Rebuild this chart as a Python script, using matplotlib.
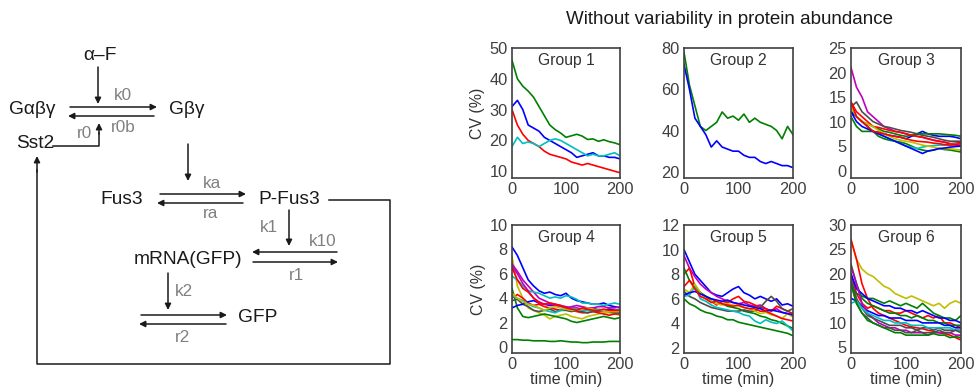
import matplotlib
matplotlib.use("Agg")
import matplotlib.pyplot as plt
import numpy as np

plt.rcParams['font.family'] = ['Liberation Sans', 'DejaVu Sans']

# time axis (min), sampled every 10 min
t = np.arange(0, 201, 10)

# MATLAB-like colours
B, G, R, C = (0, 0, 1), (0, 0.5, 0), (1, 0, 0), (0, 0.75, 0.75)
M, Y, K = (0.75, 0, 0.75), (0.75, 0.75, 0), (0.3, 0.3, 0.3)

# Group 1
g1 = [
    (G, [46, 40, 37.6, 36, 34, 31, 28, 25, 23.5, 22.4, 21, 21.5, 22, 21.4, 20.3, 20.5, 19.7, 20.2, 19.6, 19.2, 18.6]),
    (B, [31, 33, 30, 25, 24, 23, 21, 20, 19, 18, 17, 16, 14.5, 15, 15.5, 16, 15, 15, 14.5, 14.5, 14]),
    (R, [30, 25, 22, 20, 19, 18, 16.5, 15.5, 15, 14.5, 14, 13, 12.5, 12, 12.5, 12, 11.5, 11, 10.5, 10, 9.5]),
    (C, [18, 21, 19, 19.5, 19, 18, 19, 20, 20.5, 20, 19, 18, 17, 16, 15, 15.5, 15, 15, 15.5, 16, 15]),
]
# Group 2
g2 = [
    (G, [78, 62, 52, 42, 40, 42, 44, 49, 46, 47, 45, 48, 44, 46, 44, 43, 42, 40, 36, 42, 38]),
    (B, [72, 60, 46, 42, 38, 32, 35, 32, 31, 30, 30, 28, 27, 27, 25, 24, 25, 24, 23, 23, 22]),
]
# Group 3
g3 = [
    (M, [21, 17, 15, 12, 11, 10, 9, 8.5, 8, 7.8, 7.5, 7.2, 7, 6.8, 6.5, 6.2, 6, 5.8, 5.5, 5.2, 5]),
    (K, [13, 14, 12, 11, 10, 9.5, 9, 8.8, 8.5, 8.2, 8, 7.8, 7.5, 7.2, 7, 6.8, 6.5, 6.2, 6, 6, 6]),
    (B, [12, 11, 10, 9, 8, 7.8, 7.5, 7.2, 7, 6.8, 6.5, 7, 7.5, 8, 7.5, 7.2, 7, 7, 7, 6.8, 6.5]),
    (G, [11, 9, 8, 8, 8, 7, 6.5, 6.2, 6, 5.8, 5.5, 5, 4.5, 4.2, 4, 4.2, 4.5, 4.3, 4.2, 4, 3.8]),
    (G, [13, 11, 10, 9.5, 9, 8.5, 8, 7.8, 7.5, 7.2, 7, 7.2, 7.5, 7.5, 7.5, 7.5, 7.5, 7.4, 7.3, 7.2, 7]),
    (R, [14, 12, 11, 10, 9, 8.8, 8.5, 8.2, 8, 7.8, 7.5, 7.2, 7, 6.8, 6.5, 6.2, 6, 5.8, 5.5, 5.6, 5.8]),
    (C, [13, 11, 10, 9, 8, 7.5, 7, 6.5, 6, 5.5, 5, 4.8, 4.5, 4.8, 5, 5.1, 5.2, 5.2, 5.3, 5.4, 5.5]),
    (Y, [13, 11, 10, 9.5, 9, 8.2, 7.5, 7, 6.5, 6.2, 6, 5.8, 5.5, 5.2, 5, 4.8, 4.5, 4.5, 4.5, 4.3, 4.2]),
    (B, [12, 10, 9, 8.5, 8, 7.5, 7, 6.5, 6, 5.5, 5, 4.5, 4, 3.5, 4, 4.2, 4.5, 4.6, 4.8, 4.9, 5]),
    (R, [14, 11, 10, 9, 8, 7.8, 7.5, 7.2, 7, 6.8, 6.5, 6.2, 6, 5.9, 5.8, 5.6, 5.5, 5.3, 5.2, 5.3, 5.5]),
]
# Group 4
g4 = [
    (B, [8.2, 7.5, 6.5, 5.5, 5, 4.6, 4.4, 4.5, 4.3, 4.2, 4.4, 4.0, 3.8, 3.7, 3.6, 3.5, 3.5, 3.6, 3.4, 3.3, 3.2]),
    (G, [0.6, 0.6, 0.55, 0.55, 0.5, 0.5, 0.5, 0.45, 0.45, 0.5, 0.45, 0.4, 0.4, 0.35, 0.35, 0.4, 0.4, 0.4, 0.45, 0.45, 0.45]),
    (Y, [7.4, 5, 4, 3.2, 3.0, 2.8, 2.6, 2.3, 2.5, 2.6, 2.7, 2.5, 2.4, 2.3, 2.5, 2.6, 2.7, 2.8, 2.8, 2.7, 2.6]),
    (M, [6.8, 6.2, 5.5, 5, 4.5, 4, 3.8, 3.6, 3.5, 3.4, 3.3, 3.2, 3.2, 3.1, 3.0, 3.1, 3.0, 3.0, 3.1, 3.0, 3.0]),
    (C, [5.8, 5.5, 5.0, 4.6, 4.5, 4.4, 4.2, 4.0, 4.1, 4.0, 4.2, 4.1, 3.9, 3.6, 3.6, 3.5, 3.5, 3.4, 3.5, 3.6, 3.5]),
    (G, [4.8, 3.2, 2.5, 2.4, 2.5, 2.6, 2.7, 2.6, 2.5, 2.4, 2.3, 2.1, 2.0, 2.1, 2.2, 2.3, 2.4, 2.5, 2.4, 2.3, 2.4]),
    (R, [4.0, 4.3, 4.0, 3.6, 3.4, 3.5, 3.3, 3.2, 3.1, 3.0, 3.1, 3.0, 2.9, 2.8, 2.8, 2.9, 2.8, 2.7, 2.6, 2.7, 2.7]),
    (K, [3.8, 3.9, 3.5, 3.3, 3.0, 2.9, 3.0, 3.1, 2.9, 3.0, 3.0, 2.9, 3.0, 2.9, 2.8, 2.9, 2.9, 3.0, 2.9, 2.8, 2.8]),
    (B, [3.2, 3.4, 3.5, 3.7, 3.8, 3.6, 3.5, 3.4, 3.4, 3.3, 3.2, 3.1, 3.0, 3.0, 3.1, 3.2, 3.0, 3.0, 3.1, 3.0, 3.0]),
    (C, [4.2, 4.0, 3.8, 3.5, 3.3, 3.2, 3.0, 2.9, 2.8, 3.0, 3.1, 3.2, 3.1, 3.0, 3.0, 3.0, 3.1, 3.0, 2.9, 3.0, 3.0]),
    (M, [6.6, 6.0, 5.2, 4.6, 4.0, 3.7, 3.5, 3.5, 3.4, 3.3, 3.2, 3.3, 3.4, 3.3, 3.2, 3.2, 3.3, 3.3, 3.2, 3.2, 3.3]),
    (Y, [4.4, 4.0, 3.7, 3.5, 3.4, 3.2, 3.0, 3.2, 3.3, 3.2, 3.1, 3.0, 3.0, 3.1, 3.2, 3.1, 3.0, 3.0, 2.9, 2.9, 2.9]),
    (R, [6.5, 5.5, 4.8, 4.5, 4.0, 3.6, 3.5, 3.6, 3.5, 3.4, 3.2, 3.1, 3.0, 3.2, 3.1, 3.0, 3.0, 3.1, 3.0, 3.0, 3.0]),
]
# Group 5
g5 = [
    (B, [10.0, 9.0, 8.0, 7.5, 7.0, 6.5, 6.3, 6.2, 6.5, 6.8, 7.0, 6.5, 6.3, 6.0, 6.2, 6.0, 5.8, 6.0, 5.5, 5.6, 5.4]),
    (M, [9.5, 8.5, 7.8, 7.2, 6.8, 6.5, 6.2, 6.0, 5.8, 5.7, 5.6, 5.7, 5.5, 5.4, 5.5, 5.2, 5.0, 5.2, 4.9, 4.8, 4.6]),
    (R, [8.0, 8.5, 7.0, 6.5, 6.2, 5.8, 5.5, 5.8, 5.7, 6.0, 6.2, 5.8, 5.7, 5.5, 5.3, 5.2, 5.0, 5.4, 5.2, 5.0, 4.8]),
    (G, [6.0, 5.6, 5.4, 5.1, 4.9, 4.8, 4.6, 4.5, 4.3, 4.3, 4.1, 4.0, 3.9, 3.8, 3.7, 3.6, 3.5, 3.4, 3.3, 3.2, 3.0]),
    (G, [8.5, 7.5, 7.0, 6.5, 6.2, 6.0, 5.8, 5.6, 5.4, 5.3, 5.2, 5.0, 4.9, 4.8, 4.6, 4.5, 4.3, 4.2, 4.0, 3.8, 3.6]),
    (K, [6.6, 6.2, 6.0, 5.7, 5.5, 5.3, 5.2, 5.1, 5.0, 5.0, 5.0, 5.1, 5.0, 5.0, 5.3, 5.8, 6.2, 5.8, 5.2, 5.0, 5.2]),
    (C, [6.2, 6.3, 7.0, 6.0, 5.8, 5.5, 5.3, 5.2, 5.1, 5.0, 4.9, 4.7, 4.6, 4.2, 4.0, 4.3, 4.1, 4.0, 4.2, 3.8, 3.4]),
    (Y, [6.8, 6.5, 7.2, 6.5, 6.0, 5.8, 5.6, 5.5, 5.6, 5.5, 5.4, 5.3, 5.2, 5.0, 4.8, 4.9, 4.7, 4.6, 4.4, 4.8, 4.5]),
    (B, [6.3, 6.5, 6.6, 6.4, 6.2, 6.0, 5.9, 5.8, 5.9, 5.7, 5.6, 5.5, 5.4, 5.3, 5.2, 5.0, 5.1, 5.0, 4.9, 4.8, 4.7]),
    (R, [7.0, 7.5, 6.8, 6.2, 6.0, 5.7, 5.8, 5.6, 5.5, 5.4, 5.5, 5.3, 5.2, 5.2, 5.0, 5.0, 4.8, 4.6, 4.4, 4.3, 4.2]),
]
# Group 6
g6 = [
    (Y, [27, 23, 21, 20, 19.5, 18.5, 17.5, 17, 16, 15.5, 15, 15.5, 15, 14.5, 14, 13.5, 14, 13, 14, 14.5, 14]),
    (R, [27, 23, 18, 15, 13, 12, 11.5, 11, 10.5, 10, 9.5, 9.2, 9, 8.8, 8.5, 8.3, 8, 7.8, 7.5, 7, 6.5]),
    (R, [20, 16, 14, 13, 13.5, 13, 12.5, 12.5, 12, 12, 12.5, 12, 11.5, 11, 11.5, 11, 11.5, 10, 10, 9.5, 9]),
    (G, [17.5, 16, 15.5, 15, 15, 14.5, 14, 14.5, 14, 13.5, 14, 13.5, 13, 14, 13, 12, 11.5, 11, 11, 10.5, 11.5]),
    (G, [22, 18, 15, 14, 13.5, 13, 12.5, 12, 12, 11.5, 11.5, 11, 11.5, 11, 10.5, 10.5, 10, 10, 9.5, 9.5, 9.5]),
    (B, [20, 17, 16, 15, 14.5, 14, 13.5, 13.5, 13, 13, 12.5, 12.5, 12, 12.5, 12, 11.5, 11, 11, 10.5, 10.5, 10]),
    (B, [15, 14.5, 13.5, 12.5, 12, 11.5, 11.5, 11, 11, 11, 10.5, 10.5, 10.5, 10, 10, 10, 10, 9.5, 9.5, 9, 9]),
    (M, [21.5, 18, 14, 12, 11, 10, 9.5, 9, 9, 8.5, 8.5, 8, 8, 8, 7.5, 8, 8, 8, 8, 7.5, 7.5]),
    (K, [19, 15, 13, 11.5, 11, 10.5, 10, 9.5, 9.5, 9.5, 9, 9, 8.5, 9, 9, 8.5, 9, 8.5, 8.5, 8.5, 8.5]),
    (C, [14, 14.5, 13, 12, 11.5, 11, 10.5, 10.5, 10, 10, 10, 9.5, 9.5, 9.5, 9, 9, 9, 9, 9, 8.5, 8.5]),
    (K, [18, 14, 12, 11, 10, 9.5, 9, 9, 8.5, 8.5, 8, 8, 8.5, 8, 8, 8, 8.5, 8, 8, 8.5, 8]),
    (G, [18, 14, 12, 10.5, 10, 9.5, 9, 8.5, 8, 8, 7.5, 7.5, 7.5, 7.5, 7.5, 7.8, 7.5, 7.5, 7, 7.2, 7]),
]

groups = [g1, g2, g3, g4, g5, g6]
group_names = ['Group 1', 'Group 2', 'Group 3', 'Group 4', 'Group 5', 'Group 6']
ylims = [(7.8, 50), (17, 80), (-1.5, 25), (-0.5, 10), (1.6, 12), (3.85, 30)]
yticks = [[10, 20, 30, 40, 50], [20, 40, 60, 80], [0, 5, 10, 15, 20, 25],
          [0, 2, 4, 6, 8, 10], [2, 4, 6, 8, 10, 12], [5, 10, 15, 20, 25, 30]]
xticks = [0, 100, 200]

W, H = 974, 390
fig = plt.figure(figsize=(W / 100, H / 100), dpi=100)

# ---- diagram on the left, drawn in pixel coordinates ----
d = fig.add_axes([0, 0, 1, 1])
d.set_xlim(0, W)
d.set_ylim(H, 0)
d.axis('off')

txt = '#1a1a1a'
gray = '#808080'
lab_fs = 13.8
rate_fs = 12.3


def arrow(x0, y0, x1, y1):
    d.annotate('', xy=(x1, y1), xytext=(x0, y0),
               arrowprops=dict(arrowstyle='-|>', color=txt, lw=1.1,
                               mutation_scale=9, shrinkA=0, shrinkB=0))


# species labels
d.text(100, 55, 'α–F', fontsize=lab_fs, color=txt, ha='center', va='center')
d.text(32, 109, 'Gαβγ', fontsize=lab_fs, color=txt, ha='center', va='center')
d.text(187, 109, 'Gβγ', fontsize=lab_fs, color=txt, ha='center', va='center')
d.text(35, 143, 'Sst2', fontsize=lab_fs, color=txt, ha='center', va='center')
d.text(122, 199, 'Fus3', fontsize=lab_fs, color=txt, ha='center', va='center')
d.text(289, 199, 'P-Fus3', fontsize=lab_fs, color=txt, ha='center', va='center')
d.text(188, 260, 'mRNA(GFP)', fontsize=lab_fs, color=txt, ha='center', va='center')
d.text(258, 317, 'GFP', fontsize=lab_fs, color=txt, ha='center', va='center')

# rate labels
for s, x, y in [('k0', 123, 95), ('r0b', 123, 127), ('r0', 84, 134), ('ka', 212, 183),
                ('ra', 211, 214), ('k1', 269, 227), ('k10', 323, 241), ('r1', 296, 276),
                ('k2', 184, 291), ('r2', 182, 337)]:
    d.text(x, y, s, fontsize=rate_fs, color=gray, ha='center', va='center')

# arrows
arrow(98, 67, 98, 104)
arrow(70, 107, 157, 107)
arrow(154, 116, 68, 116)
d.plot([53, 99, 99], [146, 146, 133], color=txt, lw=1.1)
arrow(99, 134, 99, 123)
arrow(188, 144, 188, 181)
arrow(160, 194, 246, 194)
arrow(243, 203, 157, 203)
arrow(289, 210, 289, 246)
arrow(337, 252, 252, 252)
arrow(253, 262, 338, 262)
arrow(168, 273, 168, 310)
arrow(141, 315, 227, 315)
arrow(226, 324, 139, 324)
d.plot([329, 390, 390, 37, 37], [200, 200, 364, 364, 170], color=txt, lw=1.1)
arrow(37, 172, 37, 156)

# ---- CV panels ----
cols = [(512, 108), (684, 109), (851, 110)]
rows = [(48, 130), (225, 128)]
spine_c = '#404040'
tick_c = '#404040'
fs = 11.8

for i, series in enumerate(groups):
    r, c = divmod(i, 3)
    x0, w = cols[c]
    y0, h = rows[r]
    ax = fig.add_axes([x0 / W, 1 - (y0 + h) / H, w / W, h / H])
    for col, vals in series:
        ax.plot(t, vals, color=col, lw=1.2)
    ax.set_xlim(0, 200)
    ax.set_ylim(*ylims[i])
    ax.set_xticks(xticks)
    ax.set_yticks(yticks[i])
    ax.tick_params(length=0, labelsize=fs, labelcolor=tick_c, pad=3)
    for sp in ax.spines.values():
        sp.set_color(spine_c)
        sp.set_linewidth(1.2)
    ax.text(0.5, 0.9, group_names[i], transform=ax.transAxes, ha='center', va='center',
            fontsize=11.3, color='#333333')
    if c == 0:
        ax.set_ylabel('CV (%)', fontsize=11.4, color='#333333', labelpad=3)
    if r == 1:
        ax.set_xlabel('time (min)', fontsize=11.6, color='#333333', labelpad=0)

fig.text(729 / W, 1 - 19 / H, 'Without variability in protein abundance',
         ha='center', va='center', fontsize=13.5, color='#1a1a1a')

fig.savefig('out.png', dpi=100)
